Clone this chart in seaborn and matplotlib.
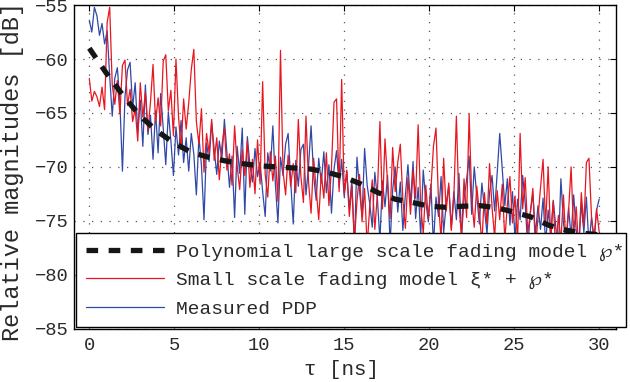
import numpy as np
import pandas as pd
import matplotlib
matplotlib.use("Agg")
import matplotlib.pyplot as plt
import seaborn as sns

# ---- data -------------------------------------------------------------
delay_step_ns = 0.15
n_samples = 201

measured_db = [
    -56.4, -57.5, -55.2, -56.0, -57.8, -56.7, -58.6, -57.4, -61.6, -65.3,
    -61.8, -60.8, -64.0, -70.4, -63.5, -61.0, -60.3, -64.5, -62.2, -66.8,
    -63.8, -68.1, -62.4, -67.0, -65.2, -69.3, -64.8, -68.7, -63.2, -66.4,
    -69.8, -64.9, -67.6, -70.8, -66.3, -68.9, -65.7, -69.6, -67.3, -70.4,
    -66.9, -68.8, -72.6, -67.2, -69.9, -74.9, -67.8, -69.5, -65.9, -68.4,
    -70.7, -67.6, -69.3, -65.6, -68.7, -71.9, -69.0, -74.7, -68.1, -70.6,
    -66.4, -74.4, -67.2, -69.8, -71.4, -68.3, -70.9, -69.6, -72.3, -74.6,
    -68.7, -70.4, -66.2, -71.6, -75.2, -69.1, -70.8, -67.9, -66.9, -71.3,
    -75.3, -69.4, -71.8, -68.4, -67.9, -72.6, -69.9, -66.2, -70.8, -73.1,
    -69.2, -71.5, -68.6, -72.4, -69.8, -74.3, -70.2, -68.5, -71.9, -69.3,
    -72.8, -70.4, -73.9, -71.2, -77.5, -69.1, -72.2, -74.6, -68.3, -71.7,
    -73.4, -75.6, -70.5, -72.9, -76.8, -71.3, -73.7, -70.8, -77.2, -72.1,
    -70.0, -74.2, -71.4, -75.9, -72.6, -69.8, -73.5, -69.5, -74.8, -71.9,
    -76.4, -70.3, -73.2, -75.1, -71.6, -77.3, -72.8, -74.6, -70.9, -76.1,
    -73.4, -71.8, -75.7, -72.3, -74.9, -70.6, -76.5, -73.0, -71.2, -69.0,
    -74.4, -70.0, -72.7, -75.3, -71.5, -73.8, -76.2, -72.4, -70.8, -74.1,
    -70.6, -66.9, -70.2, -73.6, -71.1, -75.4, -72.3, -76.7, -73.0, -74.9,
    -70.8, -73.4, -77.6, -74.2, -72.5, -76.3, -73.6, -75.8, -72.9, -77.1,
    -74.0, -76.4, -73.1, -75.6, -77.8, -71.1, -75.2, -77.0, -73.8, -76.5,
    -72.6, -75.9, -77.4, -73.4, -76.1, -72.8, -77.3, -74.7, -76.6, -74.0,
    -73.0,
]

small_scale_db = [
    -61.8, -63.9, -63.0, -63.5, -64.4, -62.6, -64.7, -56.6, -55.2, -62.4,
    -64.2, -62.0, -65.1, -60.6, -60.1, -64.3, -62.8, -65.8, -64.6, -67.6,
    -62.2, -65.4, -63.1, -66.7, -64.0, -60.5, -65.9, -63.6, -66.2, -60.2,
    -59.6, -64.8, -62.9, -67.1, -60.0, -65.3, -68.4, -63.7, -66.5, -64.1,
    -61.0, -59.1, -65.8, -67.9, -64.6, -70.5, -66.9, -68.7, -65.6, -69.4,
    -67.3, -71.2, -68.1, -66.4, -70.3, -68.8, -71.7, -66.2, -69.9, -72.1,
    -68.4, -70.8, -67.6, -71.9, -69.3, -72.5, -67.5, -71.6, -62.1, -70.7,
    -72.8, -68.6, -71.3, -69.0, -73.2, -59.2, -70.4, -72.6, -68.9, -71.8,
    -69.7, -72.4, -65.6, -70.9, -73.3, -65.3, -71.4, -74.3, -69.2, -72.0,
    -74.9, -70.6, -72.9, -68.7, -73.6, -70.1, -64.0, -63.7, -72.3, -61.9,
    -72.5, -70.3, -74.6, -71.8, -76.9, -73.2, -70.7, -75.1, -72.0, -77.4,
    -73.7, -71.2, -75.8, -72.6, -65.8, -73.9, -67.4, -71.5, -74.8, -68.2,
    -72.3, -69.6, -67.9, -73.0, -75.7, -71.0, -74.4, -70.3, -72.9, -66.1,
    -73.6, -76.2, -71.7, -74.8, -72.1, -68.1, -66.4, -73.3, -76.8, -69.2,
    -74.1, -71.5, -75.9, -72.8, -65.3, -73.6, -76.4, -71.1, -74.7, -65.1,
    -72.9, -75.6, -71.8, -74.2, -77.1, -72.4, -75.3, -69.7, -73.8, -76.5,
    -72.2, -74.9, -71.6, -76.8, -73.5, -70.9, -75.2, -72.7, -77.0, -66.9,
    -73.9, -71.0, -76.1, -74.3, -72.0, -77.5, -74.8, -71.9, -69.3, -75.4,
    -70.0, -76.7, -73.2, -78.0, -74.5, -76.9, -72.6, -77.3, -74.1, -70.0,
    -76.2, -73.7, -77.8, -72.4, -75.5, -69.6, -69.2, -74.6, -77.1, -73.9,
    -76.0,
]

poly_tau = list(range(31))
poly_db = [
    -59.0, -61.3, -63.4, -65.3, -66.7, -67.8, -68.65, -69.1, -69.45, -69.7,
    -69.9, -70.0, -70.1, -70.2, -70.5, -70.95, -71.6, -72.4, -73.0, -73.3,
    -73.65, -73.75, -73.65, -73.6, -73.8, -74.2, -74.65, -75.4, -75.85, -76.15,
    -76.3,
]

x_ticks = [0, 5, 10, 15, 20, 25, 30]
y_ticks = [-85, -80, -75, -70, -65, -60, -55]

labels = [
    "Polynomial large scale fading model \u2118*",
    "Small scale fading model \u03be* + \u2118*",
    "Measured PDP",
]

tau = np.arange(n_samples) * delay_step_ns
df_meas = pd.DataFrame({"tau": tau, "db": measured_db})
df_small = pd.DataFrame({"tau": tau, "db": small_scale_db})
df_poly = pd.DataFrame({"tau": poly_tau, "db": poly_db})

# ---- style ------------------------------------------------------------
sns.set_theme(style="white")
plt.rcParams["font.family"] = ["Liberation Mono", "DejaVu Sans Mono", "DejaVu Sans"]
plt.rcParams["axes.unicode_minus"] = True

BLUE = "#3149a6"
RED = "#e8161f"
BLACK = "#161616"
TEXT = "#2a2a2a"

fig = plt.figure(figsize=(6.3, 3.82), dpi=100)
ax = fig.add_axes([0.118, 0.1398, 0.860, 0.8468])

sns.lineplot(data=df_meas, x="tau", y="db", ax=ax, color=BLUE, lw=0.9,
             label=labels[2], zorder=2)
sns.lineplot(data=df_small, x="tau", y="db", ax=ax, color=RED, lw=0.9,
             label=labels[1], zorder=3)
sns.lineplot(data=df_poly, x="tau", y="db", ax=ax, color=BLACK, lw=3.8,
             linestyle=(0, (2.2, 2.0)), label=labels[0], zorder=4)
for ln in ax.get_lines():
    ln.set_dash_capstyle("butt")

ax.set_xlim(-0.88, 31.0)
ax.set_ylim(-85, -55)
ax.set_xticks(x_ticks)
ax.set_yticks(y_ticks)
ax.tick_params(direction="in", top=True, right=True, length=4, width=0.8,
               color="black", labelsize=13.5, labelcolor=TEXT)
ax.tick_params(axis="y", pad=4)
ax.tick_params(axis="x", pad=6)

ax.grid(True, linestyle=(0, (1, 6)), color="#555555", linewidth=0.9)
for sp in ax.spines.values():
    sp.set_color("black")
    sp.set_linewidth(1.0)

ax.set_xlabel("\u03c4 [ns]", fontsize=15, color=TEXT)
ax.set_ylabel("Relative magnitudes [dB]", fontsize=17, color=TEXT)
ax.xaxis.set_label_coords(0.493, -0.098)
ax.yaxis.set_label_coords(-0.093, 0.487)

handles, labs = ax.get_legend_handles_labels()
order = [labs.index(l) for l in labels]
leg = ax.legend([handles[i] for i in order], [labs[i] for i in order],
                loc="upper left", bbox_to_anchor=(0.1211, 0.19, 0.873, 0.2),
                bbox_transform=fig.transFigure, mode="expand", borderaxespad=0,
                fontsize=14, handlelength=4.0, handletextpad=0.65,
                borderpad=0.5, labelspacing=0.56, frameon=True, fancybox=False,
                framealpha=1, facecolor="white", edgecolor="black")
leg.get_frame().set_linewidth(1.0)
for t in leg.get_texts():
    t.set_color(TEXT)

fig.savefig("out.png", dpi=100)
